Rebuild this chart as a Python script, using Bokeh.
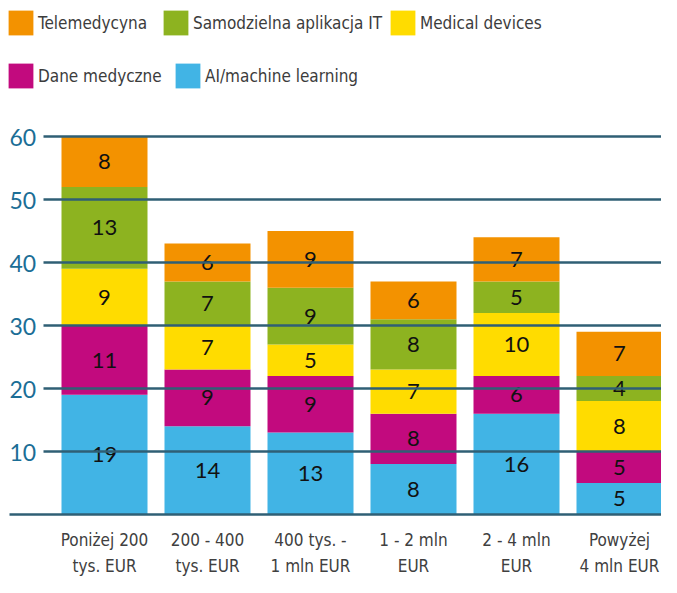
from bokeh.plotting import figure
from bokeh.models import ColumnDataSource, Legend, LegendItem, Range1d
from bokeh.core.properties import value
from bokeh.embed import file_html
from bokeh.resources import INLINE
import numpy as np

categories = ["Poniżej 200\ntys. EUR", "200 - 400\ntys. EUR", "400 tys. -\n1 mln EUR",
              "1 - 2 mln\nEUR", "2 - 4 mln\nEUR", "Powyżej\n4 mln EUR"]
series_names = ["AI/machine learning", "Dane medyczne", "Medical devices",
                "Samodzielna aplikacja IT", "Telemedycyna"]
ai_ml = [19, 14, 13, 8, 16, 5]
dane_medyczne = [11, 9, 9, 8, 6, 5]
medical_devices = [9, 7, 5, 7, 10, 8]
samodzielna_it = [13, 7, 9, 8, 5, 4]
telemedycyna = [8, 6, 9, 6, 7, 7]
y_ticks = [10, 20, 30, 40, 50, 60]

colors = ["#41B4E5", "#C20A7E", "#FFDC00", "#8DB320", "#F39200"]
series = [ai_ml, dane_medyczne, medical_devices, samodzielna_it, telemedycyna]
keys = ["ai", "dane", "med", "samo", "tele"]

W, H = 661, 577
px_per_x = 103.0       # pixels per category step
px_per_y = 6.3         # pixels per unit
x0_px = 104.0          # category 0 centre, from left of figure
y0_px = 514.0          # value 0, from top of figure

x_start = -x0_px / px_per_x
x_end = x_start + W / px_per_x
y_end = y0_px / px_per_y
y_start = y_end - H / px_per_y

p = figure(width=W, height=H, output_backend="svg", toolbar_location=None,
           x_range=Range1d(x_start, x_end), y_range=Range1d(y_start, y_end),
           min_border=0, min_border_left=0, min_border_right=0,
           min_border_top=0, min_border_bottom=0)
p.xaxis.visible = False
p.yaxis.visible = False
p.xgrid.visible = False
p.ygrid.visible = False
p.outline_line_color = None
p.background_fill_color = "white"

xs = list(range(len(categories)))
data = {"x": xs}
for k, s in zip(keys, series):
    data[k] = s
src = ColumnDataSource(data)

renderers = p.vbar_stack(keys, x="x", width=86 / px_per_x, color=colors,
                         line_color=None, source=src)

# value labels
cum = np.zeros(len(xs))
lx, ly, lt = [], [], []
for s in series:
    s = np.array(s, dtype=float)
    mid = cum + s / 2
    for i in range(len(xs)):
        lx.append(xs[i]); ly.append(mid[i]); lt.append(str(int(s[i])))
    cum = cum + s
p.text(x=lx, y=ly, text=lt, text_align="center", text_baseline="middle",
       text_font=value("Lato"), text_font_size="22px", text_color="#111111")

# gridlines (above bars)
gx0 = x_start + 43 / px_per_x
p.segment(x0=[gx0] * len(y_ticks), y0=y_ticks, x1=[x_end] * len(y_ticks), y1=y_ticks,
          line_color="#2F5F75", line_width=2.5)
bx0 = x_start + 9 / px_per_x
p.segment(x0=[bx0], y0=[0], x1=[x_end], y1=[0], line_color="#2F5F75", line_width=2.5)

# y tick labels
p.text(x=[x_start + 9 / px_per_x] * len(y_ticks), y=y_ticks, text=[str(t) for t in y_ticks],
       text_align="left", text_baseline="alphabetic", y_offset=1,
       text_font=value("Lato"), text_font_size="23px", text_color="#1B6E96")

font = "DejaVu Sans Condensed"
# category labels
p.text(x=xs, y=[0] * len(xs), text=categories, text_align="center", text_baseline="top",
       y_offset=15, text_font=value(font), text_font_size="17px",
       text_color="#404040", text_line_height=1.3)

r = dict(zip(keys, renderers))
def add_item(label, key, x, y):
    lg = Legend(items=[LegendItem(label=label, renderers=[r[key]])], location=(x, y),
                orientation="horizontal",
                glyph_width=31, glyph_height=31, label_standoff=2, spacing=0,
                padding=0, margin=0, border_line_alpha=0, background_fill_alpha=0,
                label_text_font=font, label_text_font_size="17px",
                label_text_color="#3C3C3C", label_height=31)
    p.add_layout(lg, "center")

# legend rows (bottom-left positions of each item, screen px from frame bottom-left)
add_item("Telemedycyna", "tele", 5, 539)
add_item("Samodzielna aplikacja IT", "samo", 160, 539)
add_item("Medical devices", "med", 387, 539)
add_item("Dane medyczne", "dane", 5, 486)
add_item("AI/machine learning", "ai", 172, 486)

open("out.html", "w").write(file_html(p, INLINE))
